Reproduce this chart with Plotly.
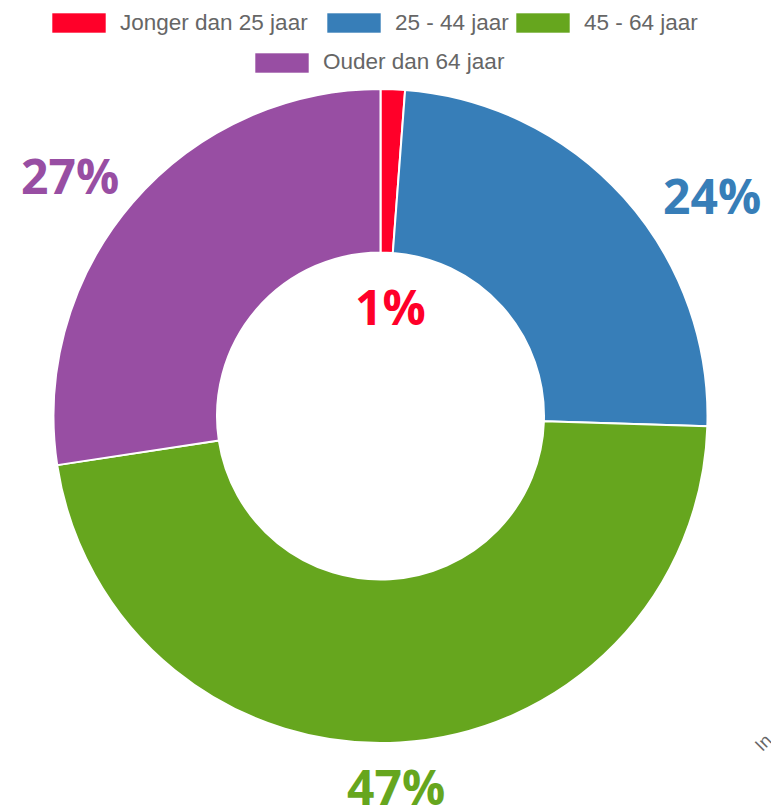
import plotly.graph_objects as go

categories = ["Jonger dan 25 jaar", "25 - 44 jaar", "45 - 64 jaar", "Ouder dan 64 jaar"]
values = [1.2, 24.3, 47.1, 27.4]
colors = ["#ff0029", "#377eb8", "#66a61e", "#984ea3"]

W, H = 771, 808

def px(x):
    return x / W

def py(y):
    return 1 - y / H

fig = go.Figure()
fig.add_trace(go.Pie(
    labels=categories,
    values=values,
    marker=dict(colors=colors, line=dict(color="white", width=2)),
    hole=0.5,
    sort=False,
    direction="clockwise",
    rotation=0,
    textinfo="none",
    showlegend=False,
    domain=dict(x=[px(53), px(708)], y=[py(743), py(89)]),
))

total = sum(values)
pct = [f"{round(v / total * 100)}%" for v in values]

# percentage labels (positions in pixels of the canvas)
label_pos = [(390, 306), (712, 195), (396, 786), (70, 176)]
annotations = []
for t, c, (x, y) in zip(pct, colors, label_pos):
    annotations.append(dict(
        x=px(x), y=py(y), xref="paper", yref="paper", text=t, showarrow=False,
        xanchor="center", yanchor="middle",
        font=dict(family="Open Sans", size=48, color=c, weight="bold"),
    ))

# custom legend (chart.js style boxes)
legend_rows = [
    [(52, 0), (327, 1), (516, 2)],
    [(255, 3)],
]
row_y = [23, 63]
shapes = []
for r, row in enumerate(legend_rows):
    yc = row_y[r]
    for x0, i in row:
        shapes.append(dict(
            type="rect", xref="paper", yref="paper",
            x0=px(x0), x1=px(x0 + 54), y0=py(yc + 10), y1=py(yc - 10),
            fillcolor=colors[i], line=dict(color="rgba(255,255,255,0.6)", width=1),
        ))
        annotations.append(dict(
            x=px(x0 + 66), y=py(yc - 1), xref="paper", yref="paper",
            text=categories[i], showarrow=False, xanchor="left", yanchor="middle",
            font=dict(family="Liberation Sans", size=22.5, color="#666666"),
        ))

annotations.append(dict(
    x=px(763), y=py(743), xref="paper", yref="paper", text="In", showarrow=False,
    textangle=-45, xanchor="center", yanchor="middle",
    font=dict(family="Liberation Sans", size=18, color="#666666"),
))

fig.update_layout(
    width=W, height=H,
    margin=dict(l=0, r=0, t=0, b=0),
    paper_bgcolor="white", plot_bgcolor="white",
    annotations=annotations, shapes=shapes,
)

fig.write_html("out.html")
